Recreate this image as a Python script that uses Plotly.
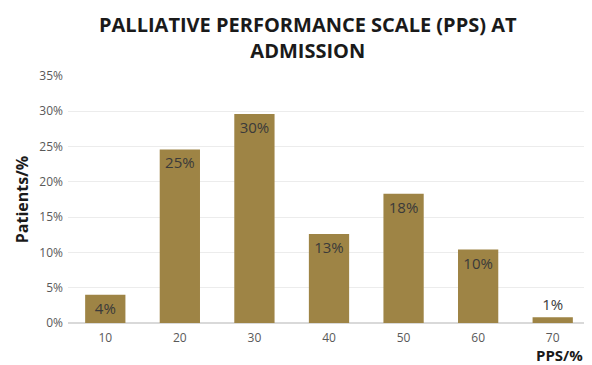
import plotly.graph_objects as go

categories = ["10", "20", "30", "40", "50", "60", "70"]
patients_pct = [4.0, 24.6, 29.6, 12.6, 18.3, 10.4, 0.8]
bar_labels = ["4%", "25%", "30%", "13%", "18%", "10%", "1%"]
y_ticks = [0, 5, 10, 15, 20, 25, 30, 35]
y_tick_labels = [f"{v}%" for v in y_ticks]

positions = ["inside"] * 6 + ["outside"]

fig = go.Figure(go.Bar(
    x=categories, y=patients_pct,
    text=bar_labels, textposition=positions,
    insidetextanchor="end",
    textfont=dict(size=15, color="#3a3a3a", family="Open Sans"),
    marker=dict(color="#9e8445", line=dict(width=0)),
    cliponaxis=False,
))

# page body has an 8px margin, so the figure is sized to the remaining area
fig.update_layout(
    width=584, height=357,
    margin=dict(l=60, r=2, t=68, b=42),
    paper_bgcolor="white", plot_bgcolor="white",
    bargap=0.46,
    showlegend=False,
    font=dict(family="Open Sans", color="#595959"),
    xaxis=dict(
        type="category", showgrid=False, showline=False, ticks="",
        tickfont=dict(size=12, color="#595959"), ticklabelstandoff=6,
    ),
    yaxis=dict(
        range=[0, 35], tickvals=y_ticks, ticktext=y_tick_labels,
        showgrid=True, gridcolor="#ececec", gridwidth=1,
        zeroline=True, zerolinecolor="#d9d9d9", showline=False,
        tickfont=dict(size=12, color="#595959"), ticklabelstandoff=4,
        title=dict(text="<b>Patients/%</b>", font=dict(size=16, color="#1a1a1a"), standoff=6),
    ),
    annotations=[
        dict(
            text="<b>PALLIATIVE PERFORMANCE SCALE (PPS) AT<br>ADMISSION</b>",
            xref="paper", yref="paper", x=0.46, y=1, xanchor="center", yanchor="bottom",
            yshift=10, showarrow=False, align="center",
            font=dict(size=20, color="#1a1a1a", family="Open Sans"),
        ),
        dict(
            text="<b>PPS/%</b>", xref="paper", yref="paper", x=1.0, y=0,
            xanchor="right", yanchor="top", yshift=-20, xshift=-5, showarrow=False,
            font=dict(size=15, color="#1a1a1a", family="Open Sans"),
        ),
    ],
)

fig.write_html("out.html")
